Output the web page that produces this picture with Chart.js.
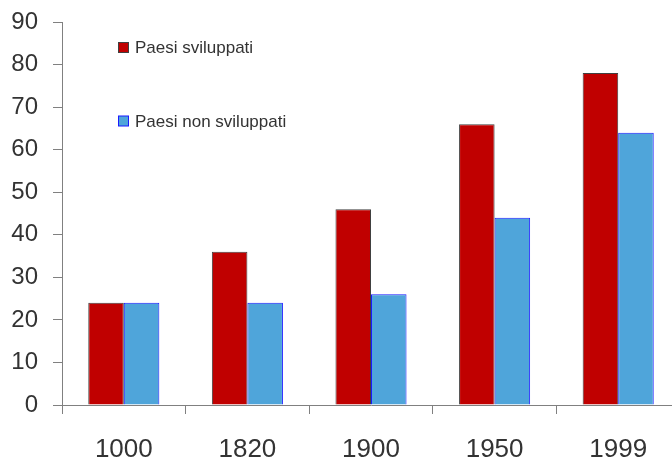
<!DOCTYPE html>
<html>
<head>
<meta charset="utf-8">
<script src="https://cdn.jsdelivr.net/npm/chart.js@4/dist/chart.umd.min.js"></script>
<style>
  html, body { margin: 0; padding: 0; background: #fff; overflow: hidden; width: 672px; height: 460px; }
  canvas { display: block; }
</style>
</head>
<body>
<canvas id="chart" width="680" height="460"></canvas>
<script>
// dati
const years = ['1000', '1820', '1900', '1950', '1999'];
const sviluppati = [24, 36, 46, 66, 78];
const nonSviluppati = [24, 24, 26, 44, 64];
const yTicks = [0, 10, 20, 30, 40, 50, 60, 70, 80, 90];

const AXIS = '#808080';
const TEXT = '#333333';
const FONT = "'Liberation Sans', Arial, sans-serif";

// legenda dentro l'area del grafico, come nell'originale
const insideLegend = {
  id: 'insideLegend',
  afterDraw(chart) {
    const ctx = chart.ctx;
    const rows = [47.5, 121]; // y centro di ogni voce
    ctx.save();
    ctx.font = '17px ' + FONT;
    ctx.textBaseline = 'middle';
    chart.data.datasets.forEach((ds, i) => {
      const y = rows[i];
      ctx.fillStyle = ds.backgroundColor;
      ctx.fillRect(118.5, y - 5, 10, 10);
      ctx.strokeStyle = ds.borderColor;
      ctx.lineWidth = 1;
      ctx.strokeRect(118.5, y - 5, 10, 10);
      ctx.fillStyle = TEXT;
      ctx.fillText(ds.label, 135, y + 1);
    });
    ctx.restore();
  },
};

new Chart(document.getElementById('chart').getContext('2d'), {
  type: 'bar',
  data: {
    labels: years,
    datasets: [
      {
        label: 'Paesi sviluppati',
        data: sviluppati,
        backgroundColor: '#C00000',
        borderColor: '#404040',
        borderWidth: 1,
      },
      {
        label: 'Paesi non sviluppati',
        data: nonSviluppati,
        backgroundColor: '#4FA5DA',
        borderColor: '#1A1AFF',
        borderWidth: 1,
      },
    ],
  },
  options: {
    responsive: false,
    animation: false,
    layout: { padding: { top: 22, left: 0, right: 0, bottom: 0 } },
    plugins: { legend: { display: false }, tooltip: { enabled: false } },
    datasets: { bar: { categoryPercentage: 0.575, barPercentage: 1 } },
    scales: {
      x: {
        offset: true,
        grid: { display: true, drawOnChartArea: false, offset: true, color: AXIS, tickLength: 9 },
        border: { color: AXIS, width: 1 },
        ticks: { color: TEXT, font: { family: FONT, size: 26 }, padding: 20, maxRotation: 0 },
        afterFit: (s) => { s.height = 55; s.paddingLeft = 0; s.paddingRight = 0; },
      },
      y: {
        min: 0,
        max: 90,
        afterBuildTicks: (s) => { s.ticks = yTicks.map((v) => ({ value: v })); },
        grid: { display: true, drawOnChartArea: false, color: AXIS, tickLength: 9 },
        border: { color: AXIS, width: 1 },
        ticks: { color: TEXT, font: { family: FONT, size: 24 }, padding: 15 },
        afterFit: (s) => { s.width = 62; s.paddingTop = 0; s.paddingBottom = 0; },
      },
    },
  },
  plugins: [insideLegend],
});
</script>
</body>
</html>
